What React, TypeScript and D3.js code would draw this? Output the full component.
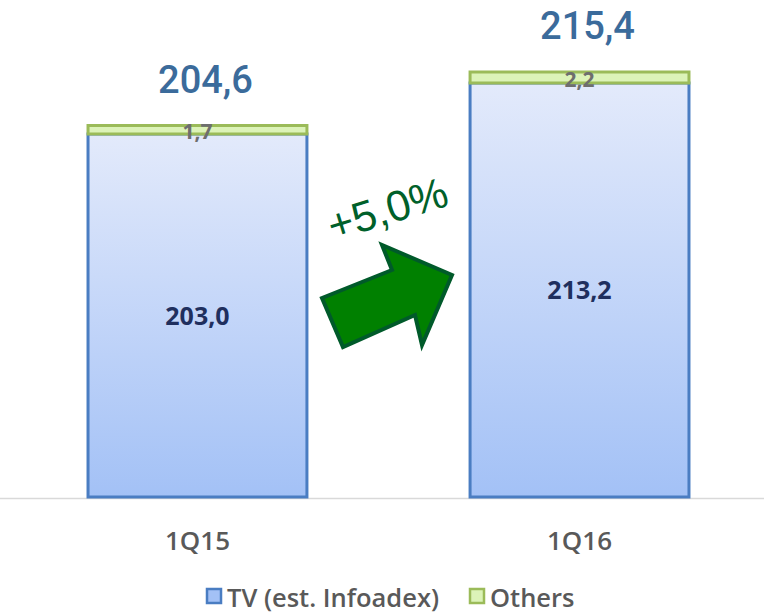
import React from "react";
import * as d3 from "d3";

const categories = ["1Q15", "1Q16"];
const tvValues = [203.0, 213.2];
const otherValues = [1.7, 2.2];
const totalLabels = ["204,6", "215,4"];
const tvLabels = ["203,0", "213,2"];
const otherLabels = ["1,7", "2,2"];
const growthLabel = "+5,0%";
const legendItems = ["TV (est. Infoadex)", "Others"];

const W = 764;
const H = 613;

export default function App() {
  const x = d3.scaleBand().domain(categories).range([0, 777]).paddingInner(0.427).paddingOuter(0.2304);
  const y = d3.scaleLinear().domain([130.4, 230.4]).range([497, -3]);
  const bw = x.bandwidth();

  const arrowPts: [number, number][] = [
    [322, 298], [392, 270], [382, 245], [452, 275], [422, 345], [415, 315], [343, 347],
  ];
  const arrowPath = d3.line()(arrowPts) + "Z";

  return (
    <svg width={W} height={H} style={{ position: "absolute", left: 0, top: 0, background: "#fff" }}>
      <defs>
        <linearGradient id="tvGrad" x1="0" y1="0" x2="0" y2="1">
          <stop offset="0" stopColor="#e3eafb" />
          <stop offset="1" stopColor="#a3c1f6" />
        </linearGradient>
      </defs>
      <line x1={0} x2={W} y1={498.5} y2={498.5} stroke="#d9d9d9" strokeWidth={1.5} />
      {categories.map((c, i) => {
        const x0 = x(c)!;
        const cx = x0 + bw / 2;
        const tvTop = y(tvValues[i]);
        const base = y(130.4);
        const totTop = y(tvValues[i] + otherValues[i]);
        return (
          <g key={c}>
            <rect x={x0} y={tvTop} width={bw} height={base - tvTop} fill="url(#tvGrad)" stroke="#4a7dc2" strokeWidth={3} />
            <rect x={x0} y={totTop} width={bw} height={tvTop - totTop} fill="#dcf3b8" stroke="#9bbb59" strokeWidth={3} />
            <text x={cx} y={(tvTop + base) / 2 + 9} textAnchor="middle" fontFamily="'Open Sans', sans-serif" fontWeight={700} fontSize={25} fill="#1f2f5e">{tvLabels[i]}</text>
            <text x={cx} y={(totTop + tvTop) / 2 + 9} textAnchor="middle" fontFamily="'Open Sans', sans-serif" fontWeight={700} fontSize={21} fill="#6e6e6e">{otherLabels[i]}</text>
            <text x={cx + 8} y={totTop - 33} textAnchor="middle" fontFamily="Roboto, sans-serif" fontWeight={500} fontSize={38} fill="#3b6b9b">{totalLabels[i]}</text>
            <text x={cx} y={550} textAnchor="middle" fontFamily="'Open Sans', sans-serif" fontWeight={600} fontSize={26} fill="#595959">{c}</text>
          </g>
        );
      })}
      <path d={arrowPath} fill="#008000" stroke="#005a2a" strokeWidth={4} strokeLinejoin="miter" />
      <text transform="translate(333,241) rotate(-17)" fontFamily="'Liberation Sans', Arial, sans-serif" fontSize={43} fill="#00602a">{growthLabel}</text>
      <g fontFamily="'Open Sans', sans-serif" fontWeight={600} fontSize={25.5} fill="#595959">
        <rect x={207} y={589} width={14} height={14} fill="#a3c1f6" stroke="#4a7dc2" strokeWidth={2.5} />
        <text x={227} y={607}>{legendItems[0]}</text>
        <rect x={470} y={589} width={14} height={14} fill="#dcf3b8" stroke="#9bbb59" strokeWidth={2.5} />
        <text x={490} y={607}>{legendItems[1]}</text>
      </g>
    </svg>
  );
}
